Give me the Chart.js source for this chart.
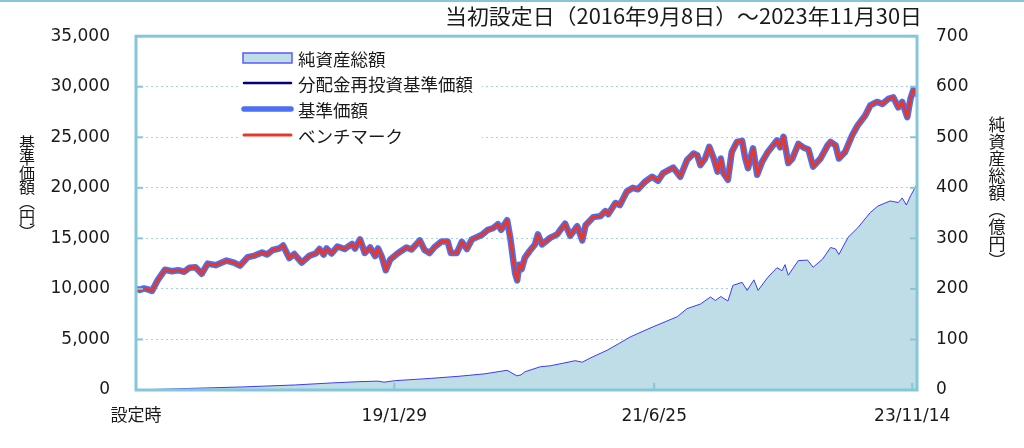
<!DOCTYPE html>
<html><head><meta charset="utf-8">
<script src="https://cdn.jsdelivr.net/npm/chart.js@4.4.1/dist/chart.umd.min.js"></script>
<style>html,body{margin:0;padding:0;background:#fff;}canvas{display:block;}</style>
</head><body>
<canvas id="c" width="1024" height="448"></canvas>
<script>
const titleText = '当初設定日（2016年9月8日）～2023年11月30日';
const leftAxisTitle = '基準価額（円）';
const rightAxisTitle = '純資産総額（億円）';
const seriesNames = ['純資産総額', '分配金再投資基準価額', '基準価額', 'ベンチマーク'];

const xTickDates = ['2016-09-08', '2019-01-29', '2021-06-25', '2023-11-14'];
const xTickLabels = ['設定時', '19/1/29', '21/6/25', '23/11/14'];
const startDate = '2016-09-08';
const endDate = '2023-11-30';

const priceDates = [
'2016-09-08','2016-09-21','2016-10-05','2016-10-18','2016-11-01','2016-11-21','2016-12-15',
'2017-01-08','2017-01-28','2017-02-18','2017-03-08','2017-03-28','2017-04-18','2017-05-08','2017-06-04','2017-07-11','2017-08-05','2017-08-25','2017-09-21','2017-10-14','2017-11-08','2017-11-25','2017-12-14',
'2018-01-05','2018-01-18','2018-02-08','2018-02-25','2018-03-22','2018-04-18','2018-05-08','2018-05-21','2018-06-04','2018-06-14','2018-07-01','2018-07-21','2018-08-14','2018-09-08','2018-09-18','2018-10-05','2018-10-21','2018-11-08','2018-11-25','2018-12-05','2018-12-18','2018-12-31',
'2019-01-15','2019-02-11','2019-03-11','2019-03-28','2019-04-25','2019-05-11','2019-05-28','2019-06-14','2019-07-08','2019-07-28','2019-08-08','2019-08-28','2019-09-14','2019-10-01','2019-10-18','2019-11-21','2019-12-11','2019-12-28',
'2020-01-14','2020-01-25','2020-02-14','2020-02-25','2020-03-05','2020-03-12','2020-03-19','2020-03-26','2020-04-03','2020-04-14','2020-04-30','2020-05-18','2020-05-28','2020-06-11','2020-07-08','2020-08-01','2020-08-11','2020-08-28','2020-09-14','2020-10-08','2020-10-25','2020-11-05','2020-12-01','2020-12-25',
'2021-01-11','2021-01-21','2021-02-14','2021-03-01','2021-03-25','2021-04-14','2021-05-01','2021-05-25','2021-06-18','2021-07-08','2021-07-25','2021-08-28','2021-09-21','2021-10-14','2021-11-05','2021-11-18','2021-11-28','2021-12-14','2021-12-28',
'2022-01-11','2022-01-25','2022-02-05','2022-02-14','2022-03-01','2022-03-14','2022-04-01','2022-04-18','2022-04-28','2022-05-08','2022-05-25','2022-06-08','2022-06-25','2022-07-14','2022-08-14','2022-08-25','2022-09-05','2022-09-21','2022-10-05','2022-10-25','2022-11-11','2022-11-28','2022-12-14',
'2023-01-08','2023-02-01','2023-02-11','2023-02-28','2023-03-11','2023-04-01','2023-04-25','2023-05-14','2023-06-08','2023-06-25','2023-07-18','2023-08-05','2023-08-25','2023-09-11','2023-09-28','2023-10-11','2023-10-28','2023-11-08','2023-11-18','2023-11-30'
];
// 基準価額 (円)
const basePrice = [
10000,9900,10050,9950,9800,10900,11900,
11750,11850,11700,12100,12150,11500,12500,12350,12800,12600,12300,13150,13300,13600,13400,13850,
14000,14300,13050,13450,12600,13300,13500,13950,13400,14000,13500,14200,13950,14450,14000,14900,13550,14100,13250,14000,13150,11850,
12900,13550,14100,13900,14800,13850,13550,14150,14700,14700,13550,13550,14650,13950,14900,15350,15850,16000,
16400,15850,16800,15000,13000,11550,10850,12400,11950,13100,13750,14400,15400,14400,15050,15400,15800,16450,15250,16200,14800,16300,17100,17200,
17700,17400,18500,18300,19650,20000,19850,20600,21100,20700,21450,22000,21100,22750,23400,23200,22250,22900,24050,
23000,21600,22900,21450,20800,23550,24550,24650,23000,21950,23900,21300,22600,23550,24700,24000,25050,22450,22900,24350,24000,23800,22100,
22900,24200,24550,24200,22900,23550,25200,26200,27150,28150,28500,28300,28800,28950,27950,28500,27000,28800,29700,29300
];
// 分配金再投資基準価額 (円) — identical to 基準価額 in the picture
const reinvestPrice = basePrice;
// ベンチマーク — overlaps 基準価額 in the picture
const benchmark = basePrice;

const navDates = [
'2016-09-08','2017-03-01','2017-09-01','2018-03-01','2018-07-01','2018-10-01','2018-12-05','2018-12-25','2019-02-01','2019-06-01','2019-09-01','2019-12-01',
'2020-02-14','2020-03-18','2020-04-01','2020-04-14','2020-06-05','2020-07-10','2020-08-21','2020-10-01','2020-10-25','2020-11-20',
'2021-01-18','2021-03-01','2021-04-05','2021-06-21','2021-09-11','2021-10-14','2021-11-28',
'2022-01-01','2022-01-18','2022-02-05','2022-03-01','2022-03-18','2022-04-18','2022-05-05','2022-05-28','2022-06-11','2022-07-14','2022-08-14','2022-08-31','2022-09-10','2022-09-21','2022-10-25','2022-11-25','2022-12-14',
'2023-01-15','2023-02-11','2023-02-28','2023-03-11','2023-04-11','2023-05-14','2023-06-25','2023-07-21','2023-08-31','2023-09-28','2023-10-11','2023-10-25','2023-11-08','2023-11-30'
];
// 純資産総額 (億円)
const netAssets = [
0,3,6,10,14,16.5,17.5,15.5,18.5,23,27,32,
39,28,30,36,46,48,53,58,55,63,
79,93,105,125,145,161,170,
184,177,185,176,207,213,197,218,197,223,242,236,248,227,256,257,243,
259,282,279,268,302,321,351,364,374,371,380,366,384,407
];

const leftTicks = {min: 0, max: 35000, step: 5000};
const rightTicks = {min: 0, max: 700, step: 100};

function dayOf(s) {
  const p = s.split('-').map(Number);
  const q = startDate.split('-').map(Number);
  return (Date.UTC(p[0], p[1]-1, p[2]) - Date.UTC(q[0], q[1]-1, q[2])) / 86400000;
}
function pts(dates, vals) { return dates.map((d, i) => ({x: dayOf(d), y: vals[i]})); }

const FRAME = '#86c6db';
const GRID = '#9fd4e8';
const C_AREA = '#bfdde6';
const C_AREA_LINE = '#3c3cf5';
const C_NAVY = '#000080';
const C_BLUE = '#4d6ff2';
const C_RED = '#e8382a';
const FONT_NUM = '"DejaVu Sans", "Noto Sans CJK JP", sans-serif';
const FONT_JP = '"Noto Sans CJK JP", sans-serif';

const decor = {
  id: 'decor',
  beforeDraw(chart) {
    const ctx = chart.ctx;
    ctx.save();
    ctx.fillStyle = '#fff';
    ctx.fillRect(0, 0, chart.width, chart.height);
    ctx.fillStyle = FRAME;
    ctx.fillRect(0, 0, chart.width, 2);
    ctx.restore();
  },
  afterDatasetsDraw(chart) {
    const ctx = chart.ctx, a = chart.chartArea;
    ctx.save();
    // inward ticks
    ctx.strokeStyle = FRAME; ctx.lineWidth = 2;
    const ys = chart.scales.y, y1 = chart.scales.y1, xs = chart.scales.x;
    ys.ticks.forEach(t => { const p = ys.getPixelForValue(t.value); ctx.beginPath(); ctx.moveTo(a.left, p); ctx.lineTo(a.left + 7, p); ctx.stroke(); });
    y1.ticks.forEach(t => { const p = y1.getPixelForValue(t.value); ctx.beginPath(); ctx.moveTo(a.right - 7, p); ctx.lineTo(a.right, p); ctx.stroke(); });
    xs.ticks.forEach(t => { const p = xs.getPixelForValue(t.value); ctx.beginPath(); ctx.moveTo(p, a.bottom); ctx.lineTo(p, a.bottom - 7); ctx.stroke(); });
    // frame
    ctx.lineWidth = 3;
    ctx.strokeRect(a.left, a.top, a.right - a.left, a.bottom - a.top);

    // legend
    const lx = 243, tx = 298, rows = [58, 83, 109, 135];
    ctx.fillStyle = '#fff';
    ctx.fillRect(240, 44, 242, 102);
    ctx.fillStyle = C_AREA; ctx.fillRect(lx, rows[0] - 5, 49, 10);
    ctx.strokeStyle = '#5a5aff'; ctx.lineWidth = 1.5; ctx.strokeRect(lx, rows[0] - 5, 49, 10);
    const line = (y, c, w) => { ctx.strokeStyle = c; ctx.lineWidth = w; ctx.lineCap = 'round'; ctx.beginPath(); ctx.moveTo(lx + 1, y); ctx.lineTo(lx + 48, y); ctx.stroke(); };
    line(rows[1], C_NAVY, 2.5);
    line(rows[2], C_BLUE, 5.5);
    line(rows[3], C_RED, 3);
    ctx.fillStyle = '#1a1a1a'; ctx.font = '17.5px ' + FONT_JP; ctx.textBaseline = 'middle'; ctx.textAlign = 'left';
    seriesNames.forEach((n, i) => ctx.fillText(n, tx, rows[i] + 1));

    // title (fitted)
    ctx.font = '21px ' + FONT_JP;
    const w = ctx.measureText(titleText).width, target = 477;
    ctx.save();
    ctx.translate(922 - target, 16);
    ctx.scale(target / w, 1);
    ctx.textAlign = 'left'; ctx.textBaseline = 'middle';
    ctx.fillText(titleText, 0, 0);
    ctx.restore();

    // vertical axis titles
    const vert = (s, x, y0, step, size) => {
      ctx.font = size + 'px ' + FONT_JP; ctx.textAlign = 'center'; ctx.textBaseline = 'middle';
      [...s].forEach((ch, i) => {
        const c = ch === '（' ? '︵' : ch === '）' ? '︶' : ch;
        ctx.fillText(c, x, y0 + i * step);
      });
    };
    vert(leftAxisTitle, 27, 143, 14.8, 16);
    vert(rightAxisTitle, 997, 125, 17, 17);
    ctx.restore();
  }
};

new Chart(document.getElementById('c'), {
  type: 'line',
  data: {
    datasets: [
      {label: seriesNames[3], data: pts(priceDates, benchmark), yAxisID: 'y', borderColor: C_RED, borderWidth: 3, order: 0},
      {label: seriesNames[1], data: pts(priceDates, reinvestPrice), yAxisID: 'y', borderColor: C_NAVY, borderWidth: 2, order: 1},
      {label: seriesNames[2], data: pts(priceDates, basePrice), yAxisID: 'y', borderColor: C_BLUE, borderWidth: 6.5, order: 2},
      {label: seriesNames[0], data: pts(navDates, netAssets), yAxisID: 'y1', borderColor: C_AREA_LINE, borderWidth: 1, backgroundColor: C_AREA, fill: 'origin', order: 3}
    ]
  },
  options: {
    responsive: false, animation: false, devicePixelRatio: 1,
    parsing: true,
    elements: {point: {radius: 0}, line: {tension: 0, borderJoinStyle: 'round', borderCapStyle: 'round'}},
    layout: {padding: {top: 33, left: 0, right: 0, bottom: 0}},
    plugins: {legend: {display: false}, tooltip: {enabled: false}, title: {display: false}},
    scales: {
      x: {
        type: 'linear', min: 0, max: dayOf(endDate),
        afterBuildTicks: ax => { ax.ticks = xTickDates.map(d => ({value: dayOf(d)})); },
        afterFit: s => { s.height = 58; },
        grid: {display: false, drawTicks: false}, border: {display: false},
        ticks: {autoSkip: false, maxRotation: 0, padding: 16, color: '#1a1a1a', font: {family: FONT_NUM, size: 17},
                callback: (v, i) => xTickLabels[i]}
      },
      y: {
        position: 'left', min: leftTicks.min, max: leftTicks.max,
        afterFit: s => { s.width = 136; },
        grid: {color: GRID, lineWidth: 1, drawTicks: false, tickBorderDash: [2, 3]},
        border: {display: false, dash: [2, 3]},
        ticks: {stepSize: leftTicks.step, padding: 26, color: '#1a1a1a', font: {family: FONT_NUM, size: 17},
                callback: v => v.toLocaleString('en-US')}
      },
      y1: {
        position: 'right', min: rightTicks.min, max: rightTicks.max,
        afterFit: s => { s.width = 107; },
        grid: {display: false, drawTicks: false}, border: {display: false},
        ticks: {stepSize: rightTicks.step, padding: 19, color: '#1a1a1a', font: {family: FONT_NUM, size: 17}}
      }
    }
  },
  plugins: [decor]
});
</script>
</body></html>
